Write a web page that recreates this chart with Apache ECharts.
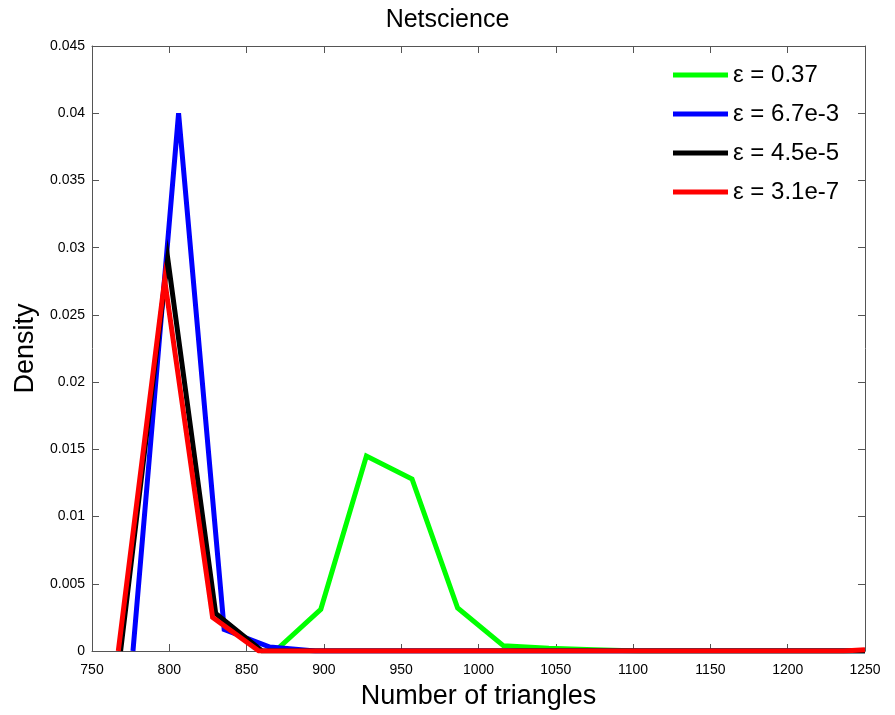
<!DOCTYPE html>
<html>
<head>
<meta charset="utf-8">
<script src="https://cdn.jsdelivr.net/npm/echarts@6/dist/echarts.min.js"></script>
<style>
html,body{margin:0;padding:0;background:#fff;}
#chart{width:895px;height:715px;}
</style>
</head>
<body>
<div id="chart"></div>
<script>
const seriesNames = ['ε = 0.37', 'ε = 6.7e-3', 'ε = 4.5e-5', 'ε = 3.1e-7'];
const seriesColors = ['#00ff00', '#0000ff', '#000000', '#ff0000'];

const greenX = [868.5, 898, 927.5, 957, 986.5, 1016, 1045.5, 1075, 1104.5, 1250];
const greenY = [0, 0.0031, 0.0145, 0.0128, 0.0032, 0.0004, 0.0002, 0.0001, 0, 0];

const blueX = [776.5, 806, 835.5, 865, 894.5, 1250];
const blueY = [0, 0.0400, 0.0016, 0.0003, 0, 0];

const blackX = [768.5, 799, 830, 860, 1250];
const blackY = [0, 0.0292, 0.0028, 0, 0];

const redX = [767, 797, 828, 858, 1236, 1250];
const redY = [0, 0.0276, 0.0025, 0, 0, 0.0001];

const xTicks = [750, 800, 850, 900, 950, 1000, 1050, 1100, 1150, 1200, 1250];
const yTicks = [0, 0.005, 0.01, 0.015, 0.02, 0.025, 0.03, 0.035, 0.04, 0.045];

const allX = [greenX, blueX, blackX, redX];
const allY = [greenY, blueY, blackY, redY];

const chart = echarts.init(document.getElementById('chart'));
const font = 'Liberation Sans, Arial, sans-serif';
const axisColor = '#555';

function xAxisDef(pos, show) {
  return {
    type: 'value', position: pos,
    min: xTicks[0], max: xTicks[xTicks.length - 1], interval: 50,
    axisLine: { show: true, onZero: false, lineStyle: { color: axisColor, width: 1 } },
    axisTick: { show: true, inside: true, length: 7, lineStyle: { color: axisColor } },
    axisLabel: { show: show, color: '#000', fontSize: 14, fontFamily: font, margin: 12,
      formatter: v => String(Math.round(v)) },
    splitLine: { show: false },
    name: show ? 'Number of triangles' : '',
    nameLocation: 'middle', nameGap: 32,
    nameTextStyle: { fontSize: 27, color: '#000', fontFamily: font }
  };
}
function yAxisDef(pos, show) {
  return {
    type: 'value', position: pos,
    min: yTicks[0], max: yTicks[yTicks.length - 1], interval: 0.005,
    axisLine: { show: true, onZero: false, lineStyle: { color: axisColor, width: 1 } },
    axisTick: { show: true, inside: true, length: 7, lineStyle: { color: axisColor } },
    axisLabel: { show: show, color: '#000', fontSize: 14, fontFamily: font, margin: 7,
      formatter: v => String(+v.toFixed(3)) },
    splitLine: { show: false },
    name: show ? 'Density' : '',
    nameLocation: 'middle', nameGap: 52, nameRotate: 90,
    nameTextStyle: { fontSize: 27, color: '#000', fontFamily: font }
  };
}

const series = seriesNames.map((n, i) => ({
  name: n, type: 'line',
  xAxisIndex: 0, yAxisIndex: 0,
  data: allX[i].map((x, j) => [x, allY[i][j]]),
  showSymbol: false, symbol: 'none',
  lineStyle: { color: seriesColors[i], width: 5, join: 'miter' },
  itemStyle: { color: seriesColors[i] },
  animation: false
}));

chart.setOption({
  backgroundColor: '#fff',
  animation: false,
  title: {
    text: 'Netscience', left: 'center', top: 3,
    textStyle: { fontSize: 25, fontWeight: 'normal', color: '#000', fontFamily: font }
  },
  grid: { left: 92, right: 30, top: 46, bottom: 59, containLabel: false },
  xAxis: [xAxisDef('bottom', true), xAxisDef('top', false)],
  yAxis: [yAxisDef('left', true), yAxisDef('right', false)],
  legend: {
    orient: 'vertical', left: 673, top: 58, padding: 0,
    itemWidth: 55, itemHeight: 5, itemGap: 5, icon: 'rect',
    data: seriesNames,
    textStyle: { fontSize: 24, color: '#000', fontFamily: font, lineHeight: 24, padding: [10, 0, 0, 0] }
  },
  series: series
});
</script>
</body>
</html>
